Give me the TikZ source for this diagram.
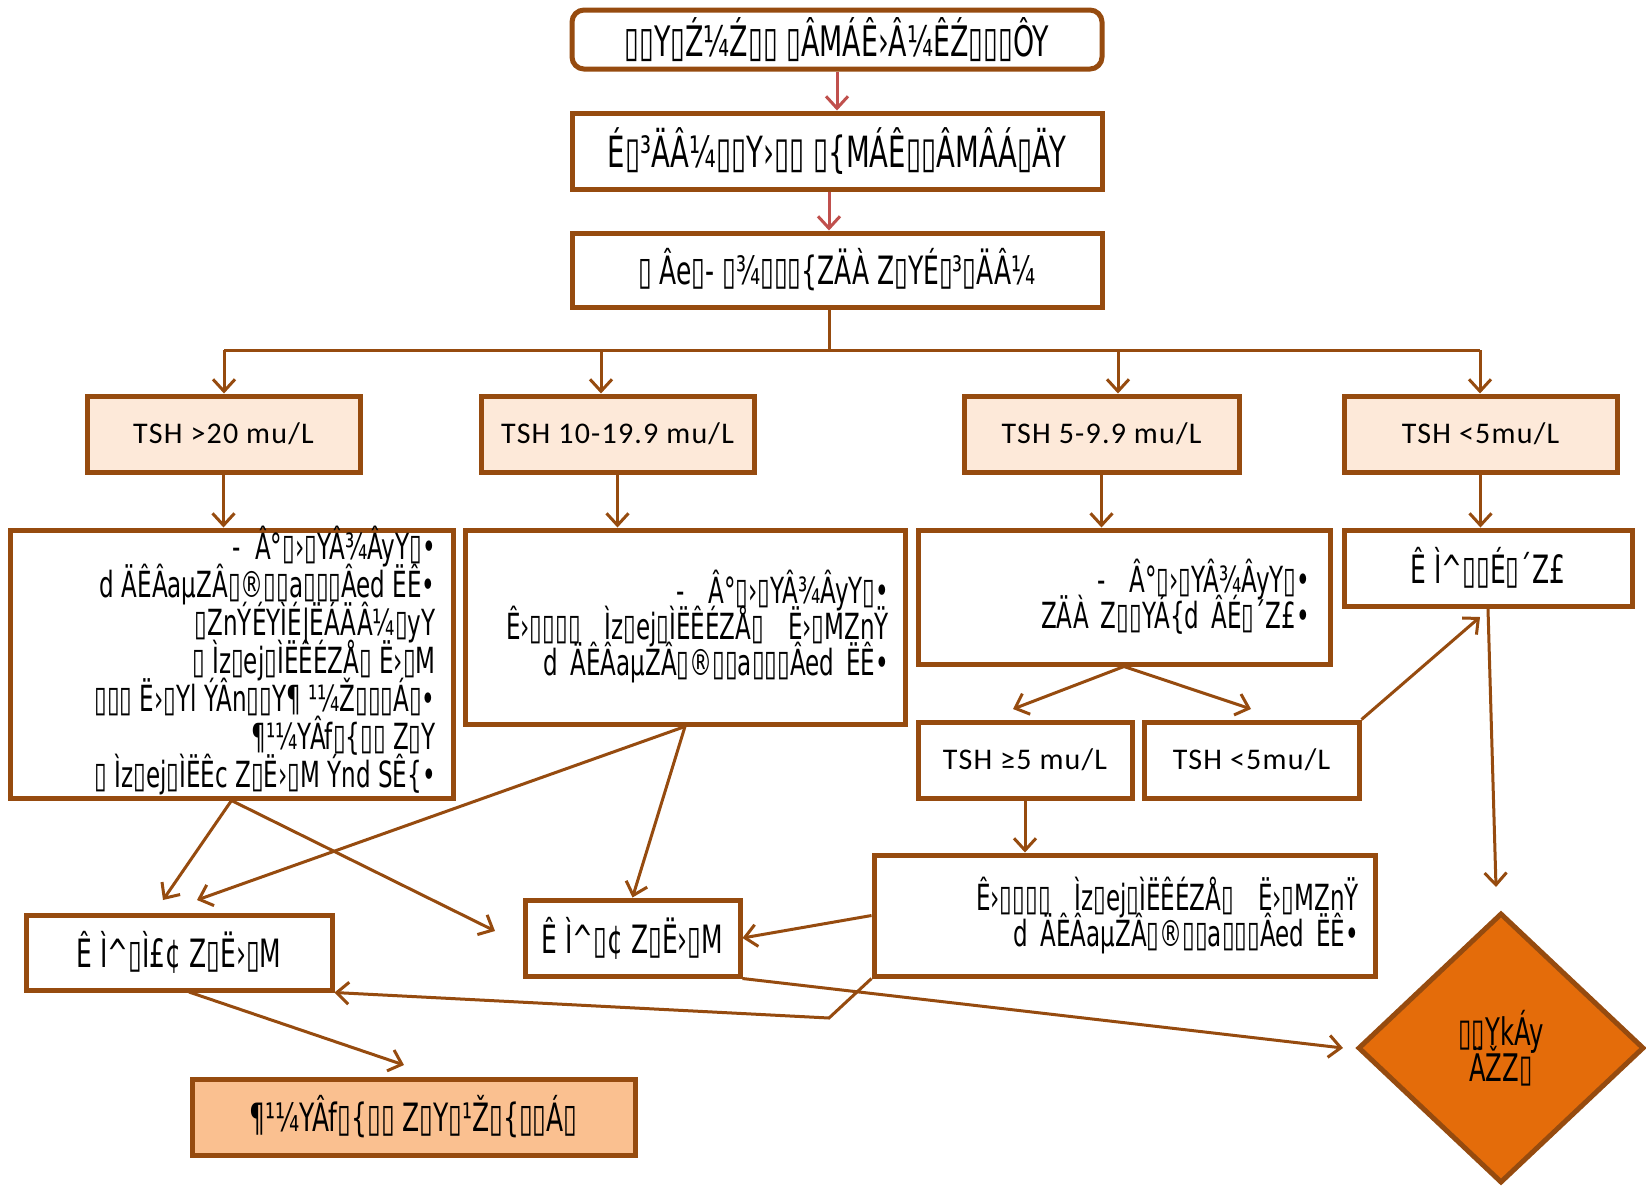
\documentclass[tikz,border=0pt]{standalone}
\usepackage{fontspec}
\usetikzlibrary{arrows.meta,shapes.geometric,calc}
\newfontfamily\garb[FakeStretch=0.64]{DejaVu Sans}
\newfontfamily\tshf[LetterSpace=4]{Carlito}
\definecolor{brn}{RGB}{150,75,15}
\definecolor{redc}{RGB}{192,80,77}
\definecolor{peach}{RGB}{253,233,217}
\definecolor{lorange}{RGB}{250,192,144}
\definecolor{dorange}{RGB}{228,108,10}
\newcommand{\garbhat}{\textasciicircum}
\newcommand{\garbtight}{\lineskiplimit=-30pt\relax\lineskip=0pt\relax}
\begin{document}
\begin{tikzpicture}[x=0.5pt,y=-0.5pt,
  box/.style={draw=brn,line width=2.5pt,fill=white,inner sep=0pt,
    font=\garb\fontsize{18}{18}\selectfont\garbtight},
  tbox/.style={draw=brn,line width=2.5pt,fill=peach,inner sep=0pt,
    minimum height=38pt,font=\tshf\fontsize{15}{18}\selectfont},
  conn/.style={draw=brn,line width=1.5pt},
  arr/.style={draw=brn,line width=1.5pt,-{Straight Barb[length=6pt,width=11pt]}},
  rarr/.style={draw=redc,line width=1.5pt,-{Straight Barb[length=6pt,width=11pt]}}]
\fill[white] (0,0) rectangle (1646,1185);
% top boxes
\node[box,rounded corners=6pt,minimum width=265pt,minimum height=29.5pt,font=\garb\fontsize{21}{22}\selectfont] (b1) at (837,39.5) {▯▯Y▯Ź¼Ź▯▯ ▯ÂMÁÊ›Â¼ÊŹ▯▯▯ÔY};
\node[box,minimum width=265pt,minimum height=38pt,font=\garb\fontsize{21.5}{22}\selectfont] (b2) at (837,151) {É▯³ÄÂ¼▯▯Y›▯▯ ▯\{MÁÊ▯▯ÂMÂÁ▯ÄY};
\node[box,minimum width=265pt,minimum height=37pt,font=\garb\fontsize{19.5}{22}\selectfont] (b3) at (837,270) {▯ Âe▯- ▯¾▯▯▯\{ZÄÀ Z▯YÉ▯³▯ÄÂ¼};
% TSH boxes
\node[tbox,minimum width=136.5pt] (t1) at (223.5,434) {TSH >20 mu/L};
\node[tbox,minimum width=136.5pt] (t2) at (617.5,434) {TSH 10-19.9 mu/L};
\node[tbox,minimum width=137.5pt] (t3) at (1101.5,434) {TSH 5-9.9 mu/L};
\node[tbox,minimum width=136.5pt] (t4) at (1480.5,434) {TSH <5mu/L};
% second row
\node[box,minimum width=221.5pt,minimum height=134pt] (A) at (231.5,664) {};
\node[anchor=east,inner sep=0pt,align=right,font=\garb\fontsize{18}{19}\selectfont\garbtight] (Atxt) at (436,661) {-\ \ Â°▯›▯YÂ¾ÂyY▯•\\d ÄÊÂaµZÂ▯®▯▯a▯▯▯Âed ËÊ•\\▯ZnÝÉYÌÉ|ËÁÄÂ¼▯yY\\▯ Ìz▯ej▯ÌËÊÉZÅ▯ Ë›▯M\\▯▯▯ Ë›▯Yl ÝÂn▯▯Y¶ ¹¼Ž▯▯▯Á▯•\\¶¹¼YÂf▯\{▯▯ Z▯Y\\▯ Ìz▯ej▯ÌËÊc Z▯Ë›▯M Ýnd SÊ\{•};
\node[box,minimum width=220pt,minimum height=97pt,text width=204pt,align=right,inner xsep=8pt] (B) at (685,627) {-\ \ Â°▯›▯YÂ¾ÂyY▯•\\Ê›▯▯▯▯ \ Ìz▯ej▯ÌËÊÉZÅ▯ \ Ë›▯MZnŸ\\d ÄÊÂaµZÂ▯®▯▯a▯▯▯Âed ËÊ•};
\node[box,minimum width=206pt,minimum height=67pt,text width=186pt,align=right,inner xsep=10pt] (C) at (1124,597) {-\ \ Â°▯›▯YÂ¾ÂyY▯•\\ZÄÀ Z▯▯YÁ\{d ÂÉ▯´Z£•};
\node[box,minimum width=144pt,minimum height=38pt,font=\garb\fontsize{19.5}{20}\selectfont] (D) at (1488,568) {Ê Ì\garbhat▯▯É▯´Z£};
% third row
\node[box,tbox,fill=white,minimum width=107pt,font=\tshf\fontsize{15}{18}\selectfont] (t5) at (1025,760) {TSH ≥5 mu/L};
\node[box,tbox,fill=white,minimum width=107.5pt,font=\tshf\fontsize{15}{18}\selectfont] (t6) at (1251.5,760) {TSH <5mu/L};
\node[box,minimum width=250.5pt,minimum height=60.5pt,text width=234.5pt,align=right,inner xsep=8pt] (E) at (1124.5,915.5) {Ê›▯▯▯▯ \ Ìz▯ej▯ÌËÊÉZÅ▯ \ Ë›▯MZnŸ\\d ÄÊÂaµZÂ▯®▯▯a▯▯▯Âed ËÊ•};
\node[box,minimum width=107.5pt,minimum height=38pt,font=\garb\fontsize{19.5}{20}\selectfont] (F) at (632.5,938) {Ê Ì\garbhat▯¢ Z▯Ë›▯M};
\node[box,minimum width=153pt,minimum height=37.5pt,font=\garb\fontsize{19.5}{20}\selectfont] (G) at (179,952.5) {Ê Ì\garbhat▯Ì£¢ Z▯Ë›▯M};
\node[box,fill=lorange,minimum width=221.5pt,minimum height=38pt,font=\garb\fontsize{19.5}{20}\selectfont] (H) at (413.5,1117) {¶¹¼YÂf▯\{▯▯ Z▯Y▯¹Ž▯\{▯▯Á▯};
\node[diamond,draw=brn,line width=2.5pt,fill=dorange,inner sep=0pt,minimum width=143pt,minimum height=135pt,align=center,font=\garb\fontsize{19}{18}\selectfont\garbtight] (dm) at (1501,1048) {▯▯YkÁy\\ÄŽZ▯};
% coordinates
\coordinate (j0) at (829,350);
\coordinate (jl) at (224,350);
\coordinate (j2) at (601,350);
\coordinate (j3) at (1118,350);
\coordinate (jr) at (1480,350);
\coordinate (b2x) at (829,0);
\coordinate (c5) at (1013,709);
\coordinate (c6) at (1251,709);
\coordinate (d1) at (1480,617);
\coordinate (dg) at (1496,887);
\coordinate (g1) at (163,900);
\coordinate (g2) at (197,900);
\coordinate (f1) at (495,931);
\coordinate (ek) at (829,1018);
\coordinate (dw) at (1343,1048);
\coordinate (gs) at (189,992);
\coordinate (h1) at (404,1065);
% connectors
\draw[rarr] (b1.south) -- (b2.north);
\draw[rarr] (b2.south -| b2x) -- (b3.north -| b2x);
\draw[conn] (b3.south -| j0) -- (j0);
\draw[conn] (jl) -- (jr);
\draw[arr] (jl) -- (t1.north -| jl);
\draw[arr] (j2) -- (t2.north -| j2);
\draw[arr] (j3) -- (t3.north -| j3);
\draw[arr] (jr) -- (t4.north -| jr);
\draw[arr] (t1.south) -- (t1.south |- A.north);
\draw[arr] (t2.south) -- (t2.south |- B.north);
\draw[arr] (t3.south) -- (t3.south |- C.north);
\draw[arr] (t4.south) -- (t4.south |- D.north);
\draw[arr] (C.south) -- (c5);
\draw[arr] (C.south) -- (c6);
\draw[arr] (t6.north east) -- (d1);
\draw[arr] (D.south) -- (dg);
\draw[arr] (t5.south) -- (t5.south |- E.north);
\draw[arr] (A.south) -- (g1);
\draw[arr] (A.south) -- (f1);
\draw[arr] (B.south) -- (g2);
\draw[arr] (B.south) -- (F.north);
\draw[arr] (E.west) -- (F.east);
\draw[arr] (E.south west) -- (ek) -- (G.south east);
\draw[arr] (F.south east) -- (dw);
\draw[arr] (gs) -- (h1);
\end{tikzpicture}
\end{document}
